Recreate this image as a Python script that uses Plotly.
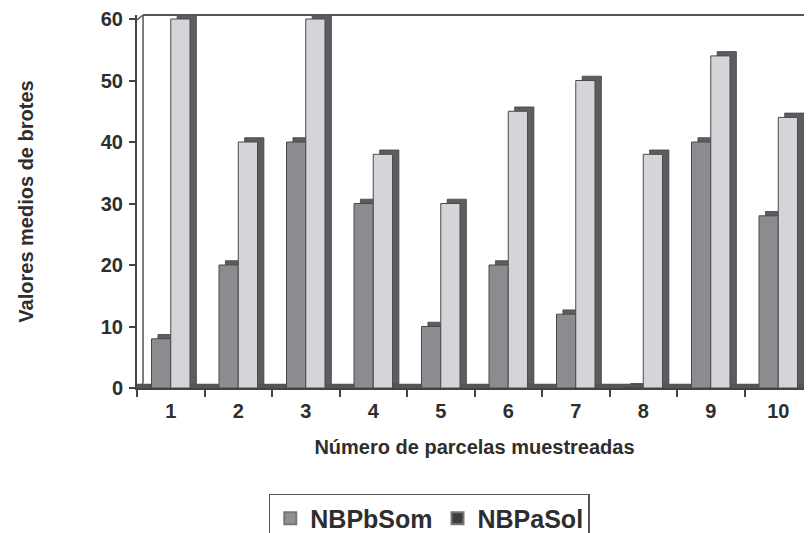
import plotly.graph_objects as go

categories = ["1", "2", "3", "4", "5", "6", "7", "8", "9", "10"]
nbpbsom = [8, 20, 40, 30, 10, 20, 12, 0, 40, 28]
nbpasol = [60, 40, 60, 38, 30, 45, 50, 38, 54, 44]
series_names = ["NBPbSom", "NBPaSol"]
legend_colors = ["#8f9194", "#3c3d3f"]

FRONT_DARK = "#8a8c8f"
FRONT_LIGHT = "#d3d5d8"
SIDE = "#5b5d60"
EDGE = "#4a4a4a"
TXT = "#2e2e2e"

W = 0.285     # bar width (category units)
DX = 0.095    # 3D depth, horizontal (category units)
DY = 0.7      # 3D depth, vertical (value units)

font = dict(family="Arial, Liberation Sans, sans-serif", color=TXT, size=20, weight="bold")

fig = go.Figure()

def add_series(vals, off, color):
    fig.add_trace(go.Bar(x=categories, y=vals, base=[DY] * len(vals),
                         offset=off + DX, width=W, marker_color=SIDE,
                         marker_line=dict(width=0.8, color="#444"),
                         showlegend=False, hoverinfo="skip"))
    fig.add_trace(go.Bar(x=categories, y=vals, offset=off, width=W,
                         marker_color=color,
                         marker_line=dict(width=1, color=EDGE),
                         showlegend=False))

add_series(nbpbsom, -W, FRONT_DARK)
add_series(nbpasol, 0.0, FRONT_LIGHT)

for name, col in zip(series_names, legend_colors):
    fig.add_trace(go.Scatter(x=[None], y=[None], mode="markers", name=name,
                             marker=dict(symbol="square", size=17, color=col,
                                         line=dict(width=1, color="#777"))))

# 3D frame decorations: floor strip, back wall edge, top edge
fig.add_shape(type="rect", xref="paper", yref="y", x0=0, x1=1, y0=0, y1=DY,
              fillcolor="#555", line=dict(width=0), layer="below")
fig.add_shape(type="line", xref="paper", yref="paper", x0=0.009, x1=0.009, y0=0.012, y1=1,
              line=dict(color="#555", width=1.5), layer="below")
fig.add_shape(type="line", xref="paper", yref="paper", x0=0.009, x1=1, y0=1, y1=1,
              line=dict(color="#555", width=2), layer="below")
fig.add_shape(type="line", xref="paper", yref="paper", x0=0, x1=0.009, y0=0.987, y1=1,
              line=dict(color="#555", width=1.5), layer="below")
fig.add_shape(type="line", xref="paper", yref="paper", x0=0, x1=0.009, y0=0, y1=0.012,
              line=dict(color="#555", width=1.5), layer="below")

fig.update_layout(
    width=812, height=560,
    margin=dict(l=129, r=8, t=7, b=180),
    paper_bgcolor="white", plot_bgcolor="white",
    barmode="overlay",
    font=font,
    xaxis=dict(
        type="category", range=[-0.5, 9.5], automargin=False,
        showline=True, linecolor="#444", linewidth=2,
        ticks="outside", tickson="boundaries", ticklen=7, tickwidth=2, tickcolor="#444",
        tickfont=font, showgrid=False, ticklabelstandoff=4,
        title=dict(text="Número de parcelas muestreadas", font=dict(font, size=20), standoff=19),
    ),
    yaxis=dict(
        range=[0, 60.65], tickvals=[0, 10, 20, 30, 40, 50, 60], automargin=False,
        showline=True, linecolor="#444", linewidth=2, ticklabeloverflow="allow",
        ticks="outside", ticklen=6, tickwidth=2, tickcolor="#444",
        tickfont=font, showgrid=False, zeroline=False, ticklabelstandoff=2,
        title=dict(text="Valores medios de brotes", font=dict(font, size=20), standoff=62),
    ),
    legend=dict(orientation="h", x=0.433, xanchor="center", y=-0.284, yanchor="top",
                font=dict(font, size=25), bordercolor="#555", borderwidth=1.5,
                bgcolor="white", itemsizing="constant", itemwidth=30),
)

fig.write_html("out.html")
